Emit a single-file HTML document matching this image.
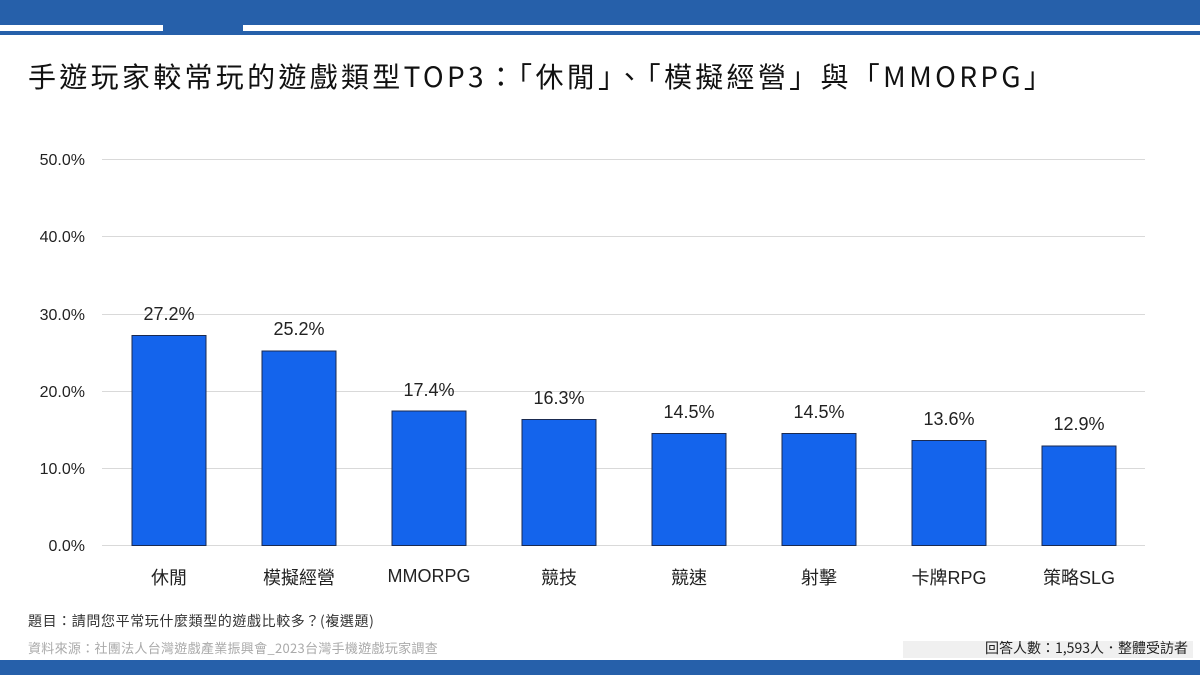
<!DOCTYPE html>
<html><head><meta charset="utf-8"><style>
body{margin:0;width:1200px;height:675px;position:relative;background:#fff;font-family:"Liberation Sans","Noto Sans CJK TC",sans-serif;overflow:hidden}
.a{position:absolute}
</style></head><body>
<div class="a" style="left:0;top:0;width:1200px;height:25px;background:#2660aa"></div>
<div class="a" style="left:163px;top:25px;width:80px;height:6px;background:#2660aa"></div>
<div class="a" style="left:0;top:31px;width:1200px;height:4px;background:#2660aa"></div>
<div class="a" style="left:28px;top:56px;font-size:28px;letter-spacing:3.3px;color:#111;white-space:nowrap;font-family:'Noto Sans CJK TC',sans-serif">手遊玩家較常玩的遊戲類型TOP3：「休閒」、「模擬經營」與「MMORPG」</div>
<svg class="a" style="left:0;top:0" width="1200" height="675">
<g stroke="#d9d9d9" stroke-width="1">
<line x1="102" x2="1145" y1="159.5" y2="159.5"/><line x1="102" x2="1145" y1="236.5" y2="236.5"/><line x1="102" x2="1145" y1="314.5" y2="314.5"/><line x1="102" x2="1145" y1="391.5" y2="391.5"/><line x1="102" x2="1145" y1="468.5" y2="468.5"/><line x1="102" x2="1145" y1="545.5" y2="545.5"/>
</g>
<g font-size="16" fill="#222" text-anchor="end" font-family="Liberation Sans,sans-serif">
<text x="85" y="165">50.0%</text><text x="85" y="242">40.0%</text><text x="85" y="320">30.0%</text><text x="85" y="397">20.0%</text><text x="85" y="474">10.0%</text><text x="85" y="551">0.0%</text>
</g>
<g fill="#1464ec" stroke="#1a2a50" stroke-width="1">
<rect x="132" y="335.5" width="74" height="210"/>
<rect x="262" y="351" width="74" height="194.5"/>
<rect x="392" y="411" width="74" height="134.5"/>
<rect x="522" y="419.5" width="74" height="126"/>
<rect x="652" y="433.5" width="74" height="112"/>
<rect x="782" y="433.5" width="74" height="112"/>
<rect x="912" y="440.5" width="74" height="105"/>
<rect x="1042" y="446" width="74" height="99.5"/>
</g>
<g font-size="18" fill="#222" text-anchor="middle">
<text x="169" y="320">27.2%</text><text x="299" y="335">25.2%</text><text x="429" y="396">17.4%</text><text x="559" y="404">16.3%</text><text x="689" y="418">14.5%</text><text x="819" y="418">14.5%</text><text x="949" y="425">13.6%</text><text x="1079" y="430">12.9%</text>
</g>
<g font-size="18" fill="#222" text-anchor="middle" font-family="Liberation Sans,Noto Sans CJK TC,sans-serif">
<text x="169" y="584">休閒</text><text x="299" y="584">模擬經營</text><text x="429" y="582">MMORPG</text><text x="559" y="584">競技</text><text x="689" y="584">競速</text><text x="819" y="584">射擊</text><text x="949" y="584">卡牌RPG</text><text x="1079" y="584">策略SLG</text>
</g>
</svg>
<div class="a" style="left:28px;top:611px;font-size:14px;letter-spacing:0.6px;color:#333;font-family:'Noto Sans CJK TC',sans-serif;white-space:nowrap">題目：請問您平常玩什麼類型的遊戲比較多？(複選題)</div>
<div class="a" style="left:28px;top:638px;font-size:13px;letter-spacing:0.3px;color:#aaa;font-family:'Noto Sans CJK TC',sans-serif;white-space:nowrap">資料來源：社團法人台灣遊戲產業振興會_2023台灣手機遊戲玩家調查</div>
<div class="a" style="left:903px;top:641px;width:290px;height:17px;background:#f0f0f0"></div>
<div class="a" style="right:12px;top:638px;font-size:14px;color:#222;font-family:'Noto Sans CJK TC',sans-serif;white-space:nowrap">回答人數：1,593人．整體受訪者</div>
<div class="a" style="left:0;top:660px;width:1200px;height:15px;background:#2660aa"></div>
</body></html>
